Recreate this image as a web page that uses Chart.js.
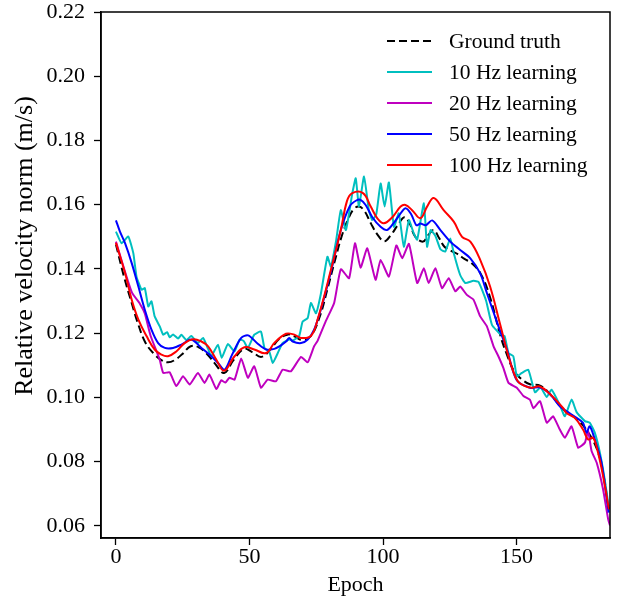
<!DOCTYPE html>
<html>
<head>
<meta charset="utf-8">
<script src="https://cdn.jsdelivr.net/npm/chart.js@4.4.1/dist/chart.umd.min.js"></script>
<style>
  html, body { margin: 0; padding: 0; background: #fff; }
  canvas { display: block; }
</style>
</head>
<body>
<canvas id="myChart" width="618" height="599"></canvas>
<script>
// values (epoch, relative velocity norm)
const gtEpoch = [0, 3, 6, 8, 11, 14.5, 17, 19.5, 22, 25, 28, 31, 34, 37, 40.5, 44, 48, 51, 54.5, 58, 61, 64.5, 67, 69.5, 73, 76.5, 79, 82, 84.5, 87, 89, 91, 93, 95.5, 98, 100.5, 103, 105.5, 108, 110, 112, 115, 117, 119, 121, 123, 125.5, 128, 130.5, 133, 136.5, 140, 144, 146.5, 149, 152, 155, 159, 163, 167.5, 172, 176, 180, 182.5, 184.5];
const gtValue = [0.1476, 0.1376, 0.1291, 0.1236, 0.1171, 0.1133, 0.1116, 0.1109, 0.1116, 0.1136, 0.1159, 0.1156, 0.1136, 0.1106, 0.1076, 0.1116, 0.1151, 0.1141, 0.1126, 0.1151, 0.1181, 0.1196, 0.1189, 0.1179, 0.1191, 0.1256, 0.1331, 0.1426, 0.1501, 0.1556, 0.1586, 0.1594, 0.1581, 0.1541, 0.1506, 0.1486, 0.1506, 0.1536, 0.1561, 0.1541, 0.1501, 0.1485, 0.1506, 0.1521, 0.1496, 0.1469, 0.1456, 0.1446, 0.1431, 0.1419, 0.1386, 0.1314, 0.1191, 0.1131, 0.1083, 0.1056, 0.1041, 0.1036, 0.1006, 0.0963, 0.0936, 0.0901, 0.0841, 0.0761, 0.0651];

const hz10Epoch = [0, 2.1, 4.6, 6.5, 7.7, 9.6, 10.8, 12.1, 13.3, 14.5, 16.4, 17.7, 19.2, 20.1, 21.4, 23.3, 24.5, 26.4, 28.2, 30.7, 32.6, 34.5, 35.7, 38.2, 39.6, 41.9, 44.4, 46.3, 47.8, 49.4, 51.8, 54.3, 55.6, 57.4, 58.7, 60.6, 62.4, 64.9, 66.2, 68.6, 69.9, 71.8, 73, 74.9, 76.7, 79.2, 80.5, 82.5, 84.2, 86.1, 88.5, 89.8, 91, 92.9, 94.7, 96, 97.5, 99.1, 100.6, 102.2, 104.1, 105.9, 107.8, 109.7, 111.5, 112.8, 115.3, 116.5, 117.8, 119.6, 121.5, 123.3, 125.2, 126.5, 128.9, 130.8, 133.9, 135.8, 138.6, 140.8, 143.9, 145.5, 147, 148.8, 150.1, 152, 154.4, 156.9, 159, 161.3, 163.1, 166.2, 168.1, 170.6, 172.5, 175.6, 177.4, 179.3, 181.2, 183, 184.5];
const hz10Value = [0.1516, 0.1480, 0.1501, 0.1449, 0.1376, 0.1335, 0.1340, 0.1283, 0.1299, 0.1252, 0.1221, 0.1195, 0.1203, 0.1187, 0.1196, 0.1183, 0.1195, 0.1178, 0.1191, 0.1169, 0.1185, 0.1151, 0.1128, 0.1164, 0.1123, 0.1166, 0.1143, 0.1180, 0.1176, 0.1154, 0.1195, 0.1205, 0.1154, 0.1143, 0.1107, 0.1138, 0.1169, 0.1180, 0.1177, 0.1191, 0.1236, 0.1247, 0.1294, 0.1262, 0.1321, 0.1438, 0.1407, 0.1491, 0.1583, 0.1521, 0.1635, 0.1682, 0.1594, 0.1688, 0.1583, 0.1552, 0.1571, 0.1666, 0.1594, 0.1669, 0.1531, 0.1573, 0.1469, 0.1552, 0.1511, 0.1491, 0.1604, 0.1469, 0.1521, 0.1503, 0.1461, 0.1454, 0.1495, 0.1449, 0.1381, 0.1356, 0.1363, 0.1359, 0.1301, 0.1226, 0.1197, 0.1191, 0.1138, 0.1128, 0.1066, 0.1076, 0.1086, 0.1016, 0.1031, 0.1001, 0.1024, 0.0976, 0.0941, 0.0993, 0.0954, 0.0926, 0.0921, 0.0890, 0.0828, 0.0745, 0.0661];

const hz20Epoch = [0, 3.4, 6, 9, 10.8, 13, 16.4, 17.7, 20.1, 22.6, 25.1, 27.6, 30.7, 33.2, 35, 37.6, 39.4, 41, 42.5, 44.4, 46.9, 49.4, 51.8, 54.3, 56.8, 59.9, 62.4, 65.5, 69.3, 71.8, 74.2, 75.5, 78.5, 81.7, 84.2, 87.3, 89.5, 91.6, 94.1, 97.2, 99.1, 102.2, 105, 107.2, 109.7, 112.8, 115.3, 117.1, 119.6, 122.1, 124.6, 127.1, 128.9, 131.4, 133.9, 136.4, 138.9, 141.4, 143.2, 145.1, 147, 150.1, 152.6, 155, 156.3, 158.8, 161.3, 163.7, 166.2, 168.1, 170.6, 173.1, 175.6, 176.8, 178.1, 180, 182.4, 184.3, 185];
const hz20Value = [0.1485, 0.1391, 0.1326, 0.1291, 0.1261, 0.1191, 0.1117, 0.1076, 0.1078, 0.1035, 0.1066, 0.1040, 0.1076, 0.1045, 0.1071, 0.1026, 0.1053, 0.1046, 0.1061, 0.1055, 0.1121, 0.1061, 0.1097, 0.1030, 0.1055, 0.1050, 0.1086, 0.1081, 0.1126, 0.1109, 0.1159, 0.1176, 0.1236, 0.1294, 0.1399, 0.1371, 0.1480, 0.1404, 0.1464, 0.1366, 0.1428, 0.1376, 0.1473, 0.1433, 0.1478, 0.1356, 0.1402, 0.1356, 0.1402, 0.1340, 0.1371, 0.1330, 0.1345, 0.1319, 0.1304, 0.1252, 0.1221, 0.1159, 0.1128, 0.1091, 0.1045, 0.1030, 0.1004, 0.0993, 0.0966, 0.0988, 0.0921, 0.0941, 0.0900, 0.0874, 0.0910, 0.0843, 0.0859, 0.0895, 0.0833, 0.0797, 0.0714, 0.0621, 0.0601];

const hz50Epoch = [0, 1.5, 3.4, 5.9, 8.4, 10.8, 13.3, 15.8, 18.3, 21.4, 24.5, 28.2, 32, 35.7, 38.2, 40.7, 43.5, 46.9, 49.5, 53.1, 56.2, 59.3, 61.2, 63.7, 64.9, 66.2, 69.3, 71.8, 74.2, 76.7, 80.5, 84.2, 87.6, 90, 91.6, 93.5, 96, 99.1, 101.5, 104.1, 106, 108.4, 110.5, 112.5, 114, 116, 118.4, 121.5, 125.2, 128.9, 132.7, 136.4, 138.9, 142.6, 146.4, 150.1, 155, 158.7, 162.4, 166.2, 168.7, 172.5, 174.9, 176.2, 177.4, 179.3, 181.8, 184.5];
const hz50Value = [0.1551, 0.1516, 0.1480, 0.1418, 0.1345, 0.1273, 0.1211, 0.1169, 0.1154, 0.1154, 0.1164, 0.1180, 0.1154, 0.1128, 0.1107, 0.1086, 0.1133, 0.1185, 0.1193, 0.1167, 0.1149, 0.1151, 0.1159, 0.1174, 0.1185, 0.1174, 0.1169, 0.1180, 0.1211, 0.1273, 0.1391, 0.1521, 0.1596, 0.1613, 0.1615, 0.1599, 0.1561, 0.1531, 0.1521, 0.1544, 0.1566, 0.1589, 0.1571, 0.1536, 0.1541, 0.1536, 0.1551, 0.1521, 0.1485, 0.1459, 0.1433, 0.1386, 0.1325, 0.1236, 0.1149, 0.1053, 0.1030, 0.1031, 0.1011, 0.0972, 0.0957, 0.0936, 0.0921, 0.0890, 0.0910, 0.0869, 0.0797, 0.0641];

const hz100Epoch = [0, 3.4, 5.9, 8.4, 11.5, 14.5, 17, 19.5, 22.6, 25.7, 28.9, 32, 34.5, 37.6, 40.5, 44.4, 48.1, 51.8, 56.2, 59.3, 63.7, 66.8, 69.3, 73, 75.5, 80.5, 84.2, 86.5, 88.5, 92.5, 95.4, 98, 100.3, 103.5, 106.6, 108.4, 110.9, 114, 116.5, 119, 122.7, 126.5, 129.6, 132.7, 136.4, 140.1, 143.9, 147.6, 150.4, 153, 155.7, 158.7, 162.4, 167.5, 168.7, 171.8, 174.9, 176.8, 178.7, 180.5, 182.4, 184.6];
const hz100Value = [0.1481, 0.1387, 0.1304, 0.1242, 0.1190, 0.1149, 0.1133, 0.1128, 0.1143, 0.1169, 0.1181, 0.1174, 0.1159, 0.1117, 0.1083, 0.1128, 0.1156, 0.1149, 0.1138, 0.1169, 0.1198, 0.1195, 0.1185, 0.1191, 0.1242, 0.1397, 0.1521, 0.1611, 0.1636, 0.1636, 0.1594, 0.1556, 0.1542, 0.1561, 0.1594, 0.1599, 0.1583, 0.1558, 0.1594, 0.1621, 0.1583, 0.1547, 0.1500, 0.1485, 0.1428, 0.1345, 0.1226, 0.1111, 0.1051, 0.1036, 0.1030, 0.1034, 0.1011, 0.0966, 0.0951, 0.0936, 0.0900, 0.0869, 0.0874, 0.0828, 0.0755, 0.0651];

const seriesNames = ['Ground truth', '10 Hz learning', '20 Hz learning', '50 Hz learning', '100 Hz learning'];
const xTickValues = [0, 50, 100, 150];
const yTickValues = [0.06, 0.08, 0.10, 0.12, 0.14, 0.16, 0.18, 0.20, 0.22];
const yLabel = 'Relative velocity norm (m/s)';

const serif = '"Liberation Serif", "Times New Roman", serif';

function points(epochs, values) {
    return epochs.map((e, i) => ({ x: e, y: values[i] }));
}

function line(label, epochs, values, color, order, extra) {
    return Object.assign({
        label: label,
        data: points(epochs, values),
        borderColor: color,
        backgroundColor: color,
        borderWidth: 2,
        pointRadius: 0,
        tension: 0.3,
        fill: false,
        order: order
    }, extra || {});
}

// box round the plot, the y label and the legend in the upper right
const frameAndLegend = {
    id: 'frameAndLegend',
    afterDraw(chart) {
        const { ctx, chartArea: a } = chart;
        ctx.save();
        ctx.strokeStyle = '#000';
        ctx.lineWidth = 1.5;
        ctx.strokeRect(a.left, a.top, a.right - a.left, a.bottom - a.top);

        ctx.save();
        ctx.translate(25, 246);
        ctx.rotate(-Math.PI / 2);
        ctx.font = '26px ' + serif;
        ctx.textAlign = 'center';
        ctx.textBaseline = 'middle';
        ctx.fillStyle = '#000';
        ctx.fillText(yLabel, 0, 0);
        ctx.restore();

        ctx.font = '21.5px ' + serif;
        ctx.textBaseline = 'middle';
        ctx.fillStyle = '#000';
        chart.data.datasets.forEach((ds, i) => {
            const y = 41 + i * 31;
            ctx.beginPath();
            ctx.strokeStyle = ds.borderColor;
            ctx.lineWidth = 2;
            ctx.setLineDash(ds.borderDash || []);
            ctx.moveTo(387, y);
            ctx.lineTo(432, y);
            ctx.stroke();
            ctx.setLineDash([]);
            ctx.fillText(ds.label, 449, y + 1);
        });
        ctx.restore();
    }
};

const ctx = document.getElementById('myChart');

new Chart(ctx, {
    type: 'line',
    data: {
        datasets: [
            line(seriesNames[0], gtEpoch, gtValue, '#000000', 5, { borderDash: [8, 4], tension: 0.4 }),
            line(seriesNames[1], hz10Epoch, hz10Value, '#00bfbf', 4, { tension: 0.15 }),
            line(seriesNames[2], hz20Epoch, hz20Value, '#bf00bf', 3, { tension: 0.15 }),
            line(seriesNames[3], hz50Epoch, hz50Value, '#0000ff', 2),
            line(seriesNames[4], hz100Epoch, hz100Value, '#ff0000', 1, { tension: 0.4 })
        ]
    },
    options: {
        responsive: false,
        animation: false,
        devicePixelRatio: 1,
        layout: { padding: { left: 0, right: 8, top: 12, bottom: 0 } },
        plugins: {
            legend: { display: false },
            tooltip: { enabled: false }
        },
        scales: {
            x: {
                type: 'linear',
                min: -5.6,
                max: 185,
                afterBuildTicks: (s) => { s.ticks = xTickValues.map(v => ({ value: v })); },
                afterFit: (s) => { s.height = 61; s.paddingLeft = 0; s.paddingRight = 0; },
                ticks: {
                    color: '#000',
                    font: { family: serif, size: 22, lineHeight: 1 },
                    padding: 1,
                    maxRotation: 0,
                    callback: (v) => String(v)
                },
                grid: { drawOnChartArea: false, drawTicks: true, tickLength: 7, tickColor: '#000', tickWidth: 1.3 },
                border: { display: true, color: '#000', width: 1.5 },
                title: {
                    display: true,
                    text: 'Epoch',
                    color: '#000',
                    font: { family: serif, size: 22, lineHeight: 1.2 },
                    padding: { top: 0, bottom: 1 }
                }
            },
            y: {
                min: 0.0562,
                max: 0.22,
                afterBuildTicks: (s) => { s.ticks = yTickValues.map(v => ({ value: v })); },
                afterFit: (s) => { s.width = 101; s.paddingTop = 0; s.paddingBottom = 0; },
                ticks: {
                    color: '#000',
                    font: { family: serif, size: 22, lineHeight: 1 },
                    padding: 9,
                    callback: (v) => Number(v).toFixed(2)
                },
                grid: { drawOnChartArea: false, drawTicks: true, tickLength: 7, tickColor: '#000', tickWidth: 1.3 },
                border: { display: true, color: '#000', width: 1.5 }
            }
        }
    },
    plugins: [frameAndLegend]
});
</script>
</body>
</html>
